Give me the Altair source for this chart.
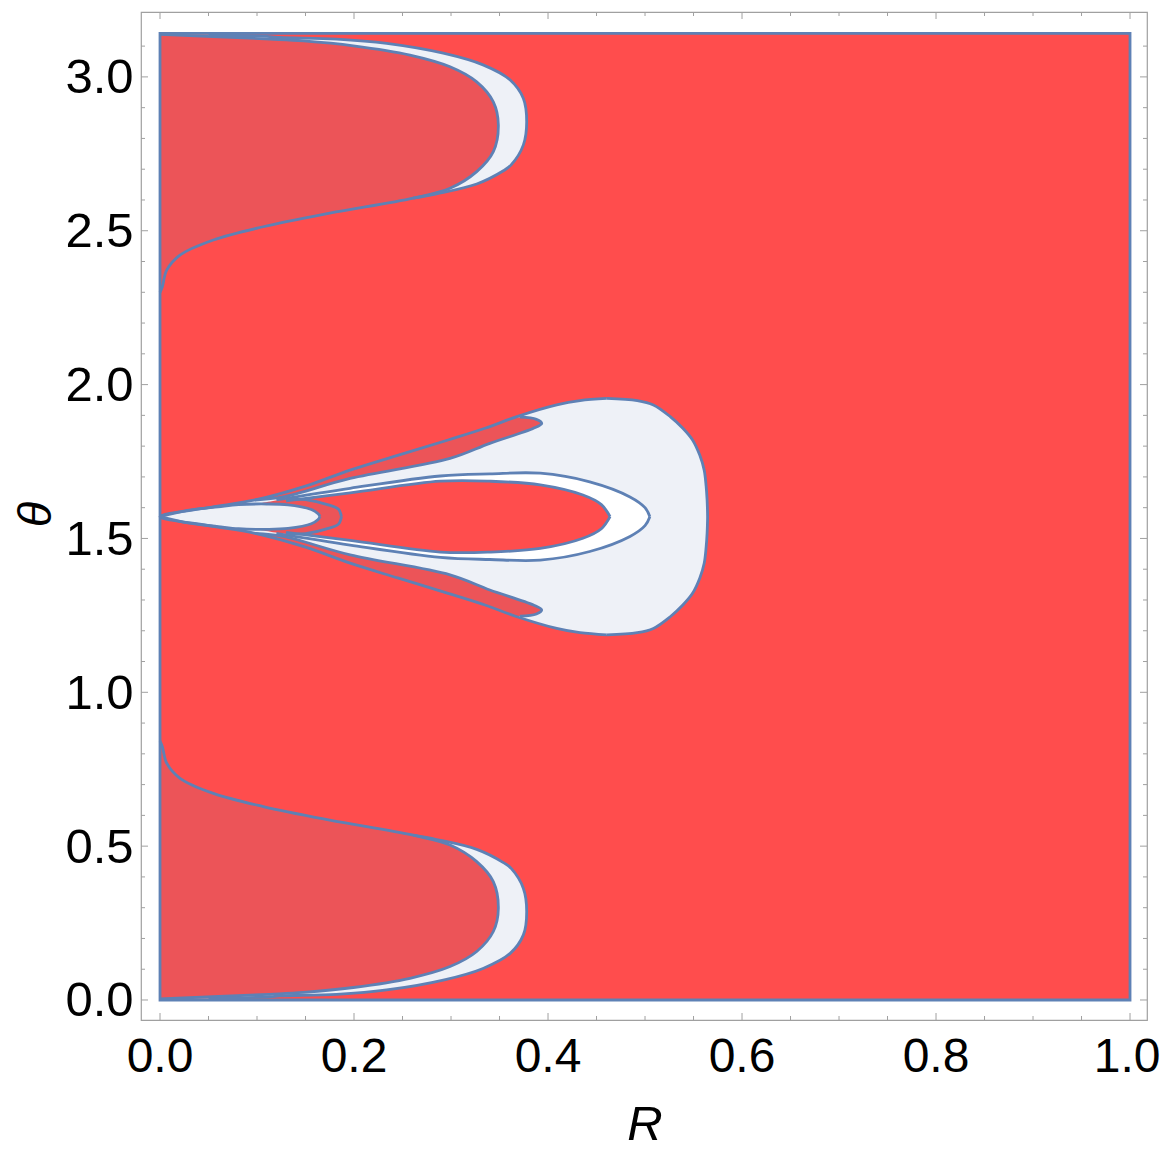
import altair as alt
import pandas as pd

PI = 3.14159

# ---------------- colours ----------------
RED = "#FF4D4D"
DARK = "#EC5458"
LIGHT = "#EEF1F7"
WHITE = "#FFFFFF"
BLUE = "#5E81B5"
FRAME = "#A0A0A0"

# ---------------- ticks and labels ----------------
x_major = [0.0, 0.2, 0.4, 0.6, 0.8, 1.0]
x_labels = ["0.0", "0.2", "0.4", "0.6", "0.8", "1.0"]
x_minor = [0.05, 0.1, 0.15, 0.25, 0.3, 0.35, 0.45, 0.5, 0.55, 0.65, 0.7, 0.75, 0.85, 0.9, 0.95]
y_major = [0.0, 0.5, 1.0, 1.5, 2.0, 2.5, 3.0]
y_labels = ["0.0", "0.5", "1.0", "1.5", "2.0", "2.5", "3.0"]
y_minor = [0.1, 0.2, 0.3, 0.4, 0.6, 0.7, 0.8, 0.9, 1.1, 1.2, 1.3, 1.4, 1.6, 1.7, 1.8, 1.9,
           2.1, 2.2, 2.3, 2.4, 2.6, 2.7, 2.8, 2.9, 3.1]
x_title = "R"
y_title = "θ"

# ---------------- top lobe (theta ascending) ----------------
top_inner_T = [2.300, 2.318, 2.372, 2.421, 2.470, 2.513, 2.557, 2.606, 2.638, 2.692, 2.757, 2.844,
               2.919, 2.984, 3.033, 3.071, 3.101, 3.117, 3.123, 3.138]
top_inner_R = [0.0, 0.0024, 0.0069, 0.0206, 0.055, 0.1065, 0.175, 0.261, 0.299, 0.3265, 0.3436, 0.3488,
               0.3436, 0.3265, 0.299, 0.2577, 0.1993, 0.148, 0.113, 0.0]
top_outer_T = [2.606, 2.620, 2.652, 2.695, 2.714, 2.779, 2.854, 2.930, 2.990, 3.039, 3.077, 3.109,
               3.123, 3.128, 3.131, 3.137]
top_outer_R = [0.261, 0.285, 0.3265, 0.354, 0.362, 0.3746, 0.378, 0.3746, 0.361, 0.333, 0.292, 0.2337,
               0.182, 0.124, 0.113, 0.05]

# ---------------- bottom lobe (theta ascending) ----------------
bot_inner_T = [0.0036, 0.0186, 0.0246, 0.0406, 0.0706, 0.1086, 0.1576, 0.2226, 0.2976, 0.3846, 0.4496,
               0.5036, 0.5356, 0.5846, 0.6286, 0.6716, 0.7206, 0.7696, 0.8236, 0.8416]
bot_inner_R = [0.0, 0.113, 0.148, 0.1993, 0.2577, 0.299, 0.3265, 0.3436, 0.3488, 0.3436, 0.3265,
               0.299, 0.261, 0.175, 0.1065, 0.055, 0.0206, 0.0069, 0.0024, 0.0]
bot_outer_T = [0.0046, 0.0106, 0.0136, 0.0186, 0.0326, 0.0646, 0.1026, 0.1516, 0.2116, 0.2876, 0.3626,
               0.4276, 0.4466, 0.4896, 0.5216, 0.5356]
bot_outer_R = [0.05, 0.113, 0.124, 0.182, 0.2337, 0.292, 0.333, 0.361, 0.3746, 0.378, 0.3746, 0.362,
               0.354, 0.3265, 0.285, 0.261]

# ---------------- middle shape ----------------
# light region: left edge (from the tip) and right edge, read at the same theta levels
mid_T = [1.1866, 1.1936, 1.2076, 1.2456, 1.2836, 1.3216, 1.3716, 1.4196, 1.4716, 1.5166, 1.5416, 1.5708,
         1.600, 1.625, 1.670, 1.722, 1.770, 1.820, 1.858, 1.896, 1.934, 1.948, 1.955]
mid_L = [0.4605, 0.433, 0.409, 0.368, 0.335, 0.297, 0.245, 0.196, 0.150, 0.098, 0.05, 0.0,
         0.05, 0.098, 0.150, 0.196, 0.245, 0.297, 0.335, 0.368, 0.409, 0.433, 0.4605]
mid_Rr = [0.4605, 0.492, 0.5086, 0.526, 0.539, 0.549, 0.5565, 0.561, 0.563, 0.564, 0.5643, 0.5645,
          0.5643, 0.564, 0.563, 0.561, 0.5565, 0.549, 0.539, 0.526, 0.5086, 0.492, 0.4605]
# thin dark slivers: outer edge and inner edge at the same theta levels
sliv_up_T = [1.625, 1.635, 1.695, 1.760, 1.809, 1.858, 1.874, 1.887, 1.894]
sliv_up_L = [0.098, 0.110, 0.172, 0.235, 0.285, 0.335, 0.347, 0.359, 0.366]
sliv_up_S = [0.098, 0.127, 0.196, 0.299, 0.340, 0.385, 0.3935, 0.388, 0.371]
sliv_lo_T = [1.2476, 1.2546, 1.2676, 1.2836, 1.3326, 1.3816, 1.4466, 1.5066, 1.5166]
sliv_lo_L = [0.366, 0.359, 0.347, 0.335, 0.285, 0.235, 0.172, 0.110, 0.098]
sliv_lo_S = [0.371, 0.388, 0.3935, 0.385, 0.340, 0.299, 0.196, 0.127, 0.098]
# white lens (R ascending)
lens_R = [0.12, 0.196, 0.289, 0.34, 0.392, 0.443, 0.4845, 0.500, 0.505]
lens_up_T = [1.625, 1.663, 1.703, 1.710, 1.712, 1.684, 1.635, 1.600, 1.5708]
lens_lo_T = [1.5166, 1.4786, 1.4386, 1.4316, 1.4296, 1.4576, 1.5066, 1.5416, 1.5708]
# red tongue (R ascending)
tongue_R = [0.13, 0.196, 0.289, 0.34, 0.392, 0.436, 0.455, 0.464]
tongue_up_T = [1.622, 1.648, 1.686, 1.686, 1.674, 1.641, 1.610, 1.5708]
tongue_lo_T = [1.5196, 1.4936, 1.4556, 1.4556, 1.4676, 1.5006, 1.5316, 1.5708]
# dark crescent round the small ellipse
cres_R = [0.10, 0.13, 0.15, 0.1735, 0.184, 0.187]
cres_up_T = [1.612, 1.627, 1.626, 1.609, 1.595, 1.5708]
cres_lo_T = [1.5296, 1.5146, 1.5156, 1.5326, 1.5466, 1.5708]
# small light ellipse
ell_R = [0.0, 0.03, 0.06, 0.081, 0.110, 0.132, 0.156, 0.163, 0.165]
ell_up_T = [1.5708, 1.592, 1.603, 1.610, 1.612, 1.609, 1.594, 1.580, 1.5708]
ell_lo_T = [1.5708, 1.5496, 1.5386, 1.5316, 1.5296, 1.5326, 1.5476, 1.5616, 1.5708]

# ---------------- scales / sizes ----------------
W, H = 1006, 1008
XS = alt.Scale(domain=[-0.0196, 1.0175], nice=False, zero=False)
YS = alt.Scale(domain=[-0.065, 3.2109], nice=False, zero=False)
FONT = "Liberation Sans"
CURVE = "catmull-rom"


def hband(T, R1, R2, color):
    """area spanning R1..R2 at each theta"""
    df = pd.DataFrame({"T": T, "A": R1, "B": R2})
    return alt.Chart(df).mark_area(orient="horizontal", color=color, interpolate=CURVE,
                                   strokeWidth=0).encode(
        y=alt.Y("T:Q", scale=YS, axis=None),
        x=alt.X("A:Q", scale=XS, axis=None),
        x2="B:Q")


def vband(R, T1, T2, color):
    """area spanning T1..T2 at each R"""
    df = pd.DataFrame({"R": R, "A": T1, "B": T2})
    return alt.Chart(df).mark_area(orient="vertical", color=color, interpolate=CURVE,
                                   strokeWidth=0).encode(
        x=alt.X("R:Q", scale=XS, axis=None),
        y=alt.Y("A:Q", scale=YS, axis=None),
        y2="B:Q")


rect_df = pd.DataFrame({"R0": [0.0], "R1": [1.0], "T0": [0.0], "T1": [PI]})
base = alt.Chart(rect_df).mark_rect(color=RED).encode(
    x=alt.X("R0:Q", scale=XS, axis=None), x2="R1:Q",
    y=alt.Y("T0:Q", scale=YS, axis=None), y2="T1:Q")

fills = [
    hband(top_outer_T, [0.0] * len(top_outer_T), top_outer_R, LIGHT),
    hband(top_inner_T, [0.0] * len(top_inner_T), top_inner_R, DARK),
    hband(bot_outer_T, [0.0] * len(bot_outer_T), bot_outer_R, LIGHT),
    hband(bot_inner_T, [0.0] * len(bot_inner_T), bot_inner_R, DARK),
    hband(mid_T, mid_L, mid_Rr, LIGHT),
    hband(sliv_up_T, sliv_up_L, sliv_up_S, DARK),
    hband(sliv_lo_T, sliv_lo_L, sliv_lo_S, DARK),
    vband(lens_R, lens_lo_T, lens_up_T, WHITE),
    vband(tongue_R, tongue_lo_T, tongue_up_T, RED),
    vband(cres_R, cres_lo_T, cres_up_T, DARK),
    vband(ell_R, ell_lo_T, ell_up_T, LIGHT),
]

# outlines
curves = {
    "top_inner": (top_inner_R, top_inner_T),
    "top_outer": (top_outer_R, top_outer_T),
    "bot_inner": (bot_inner_R, bot_inner_T),
    "bot_outer": (bot_outer_R, bot_outer_T),
    "mid_left": (mid_L, mid_T),
    "mid_right": (mid_Rr, mid_T),
    "sliv_up": (sliv_up_S, sliv_up_T),
    "sliv_lo": (sliv_lo_S, sliv_lo_T),
    "lens_up": (lens_R, lens_up_T),
    "lens_lo": (lens_R, lens_lo_T),
    "tongue_up": (tongue_R, tongue_up_T),
    "tongue_lo": (tongue_R, tongue_lo_T),
    "cres_up": (cres_R[1:], cres_up_T[1:]),
    "cres_lo": (cres_R[1:], cres_lo_T[1:]),
    "ell_up": (ell_R, ell_up_T),
    "ell_lo": (ell_R, ell_lo_T),
}
rows = []
for name, (Rs, Ts) in curves.items():
    for i, (r, t) in enumerate(zip(Rs, Ts)):
        rows.append({"curve": name, "i": i, "R": r, "T": t})
lines = alt.Chart(pd.DataFrame(rows)).mark_line(
    color=BLUE, strokeWidth=2.8, interpolate=CURVE).encode(
    x=alt.X("R:Q", scale=XS, axis=None),
    y=alt.Y("T:Q", scale=YS, axis=None),
    detail="curve:N",
    order="i:Q")

rect_outline = alt.Chart(rect_df).mark_rect(
    fillOpacity=0, stroke=BLUE, strokeWidth=2.8).encode(
    x=alt.X("R0:Q", scale=XS, axis=None), x2="R1:Q",
    y=alt.Y("T0:Q", scale=YS, axis=None), y2="T1:Q")


def xticks(vals, length):
    df = pd.DataFrame({"v": vals})
    bottom = alt.Chart(df).mark_rule(color=FRAME, strokeWidth=1).encode(
        x=alt.X("v:Q", scale=XS, axis=None), y=alt.value(H), y2=alt.value(H - length))
    top = alt.Chart(df).mark_rule(color=FRAME, strokeWidth=1).encode(
        x=alt.X("v:Q", scale=XS, axis=None), y=alt.value(0), y2=alt.value(length))
    return [bottom, top]


def yticks(vals, length):
    df = pd.DataFrame({"v": vals})
    left = alt.Chart(df).mark_rule(color=FRAME, strokeWidth=1).encode(
        y=alt.Y("v:Q", scale=YS, axis=None), x=alt.value(0), x2=alt.value(length))
    right = alt.Chart(df).mark_rule(color=FRAME, strokeWidth=1).encode(
        y=alt.Y("v:Q", scale=YS, axis=None), x=alt.value(W), x2=alt.value(W - length))
    return [left, right]


ticks = xticks(x_major, 7) + xticks(x_minor, 4) + yticks(y_major, 7) + yticks(y_minor, 4)

# tick labels and titles (text marks positioned through the scales)
xlab = alt.Chart(pd.DataFrame({"v": x_major[:-1], "t": x_labels[:-1]})).mark_text(
    font=FONT, fontSize=48, align="center", baseline="alphabetic", color="black").encode(
    x=alt.X("v:Q", scale=XS, axis=None), y=alt.value(1059.5), text="t:N")
# last label kept inside the page edge
xlab_last = alt.Chart(pd.DataFrame({"v": x_major[-1:], "t": x_labels[-1:]})).mark_text(
    font=FONT, fontSize=48, align="right", baseline="alphabetic", dx=30.5, color="black").encode(
    x=alt.X("v:Q", scale=XS, axis=None), y=alt.value(1059.5), text="t:N")
ylab = alt.Chart(pd.DataFrame({"v": y_major, "t": y_labels})).mark_text(
    font=FONT, fontSize=49, align="right", baseline="alphabetic", dy=16.5, color="black").encode(
    y=alt.Y("v:Q", scale=YS, axis=None), x=alt.value(-7.5), text="t:N")
xtitle = alt.Chart(pd.DataFrame({"t": [x_title]})).mark_text(
    font=FONT, fontSize=49, fontStyle="italic", align="center", baseline="alphabetic",
    color="black").encode(x=alt.value(504), y=alt.value(1128), text="t:N")
ytitle = alt.Chart(pd.DataFrame({"t": [y_title]})).mark_text(
    font=FONT, fontSize=47, fontStyle="italic", align="center", baseline="alphabetic",
    angle=270, color="black").encode(x=alt.value(-90), y=alt.value(502.5), text="t:N")

chart = alt.layer(base, *fills, lines, rect_outline, *ticks,
                  xlab, xlab_last, ylab, xtitle, ytitle).properties(
    width=W, height=H,
    padding={"left": 133, "top": 4, "right": 14, "bottom": 141},
    autosize=alt.AutoSizeParams(type="none"),
).configure_view(stroke=FRAME, strokeWidth=1.2)

chart.save("out.html", embed_options={"renderer": "svg", "actions": False})
